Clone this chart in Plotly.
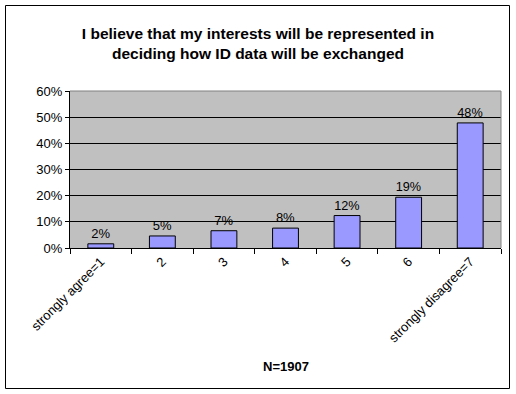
import plotly.graph_objects as go

categories = ["strongly agree=1", "2", "3", "4", "5", "6", "strongly disagree=7"]
values = [0.016, 0.046, 0.066, 0.076, 0.124, 0.194, 0.478]
y_ticks = [0, 0.1, 0.2, 0.3, 0.4, 0.5, 0.6]
title_text = "<b>I believe that my interests will be represented in<br>deciding how ID data will be exchanged</b>"
x_title = "<b>N=1907</b>"

FONT = "Arial, Liberation Sans, sans-serif"

# layout geometry (pixels)
W, H = 516, 394
L, R, T, B = 70, 15, 91, 146
pw = W - L - R
ph = H - T - B

def px_x(px):
    return (px - L) / pw

def px_y(py):
    return (H - B - py) / ph

fig = go.Figure(
    go.Bar(
        x=categories,
        y=values,
        marker=dict(color="#9999FF", line=dict(color="black", width=1)),
        texttemplate="%{y:.0%}",
        textposition="outside",
        textfont=dict(family=FONT, size=13, color="black"),
        cliponaxis=False,
    )
)

fig.update_layout(
    width=W,
    height=H,
    margin=dict(l=L, r=R, t=T, b=B, pad=0, autoexpand=False),
    paper_bgcolor="white",
    plot_bgcolor="#C0C0C0",
    bargap=0.58,
    showlegend=False,
    font=dict(family=FONT, size=13, color="black"),
    title=dict(
        text=title_text,
        x=0.5,
        xref="container",
        xanchor="center",
        y=1 - 38.5 / H,
        yref="container",
        yanchor="middle",
        font=dict(family=FONT, size=15.5, color="black"),
    ),
    xaxis=dict(
        type="category",
        automargin=False,
        tickangle=-45,
        ticks="outside",
        tickson="boundaries",
        ticklen=5,
        tickcolor="black",
        showline=True,
        linecolor="black",
        linewidth=1,
        showgrid=False,
        tickfont=dict(family=FONT, size=13, color="black"),
    ),
    yaxis=dict(
        range=[0, 0.6],
        automargin=False,
        tickvals=y_ticks,
        tickformat=".0%",
        ticks="outside",
        ticklen=4,
        tickcolor="black",
        showline=True,
        linecolor="black",
        linewidth=1,
        showgrid=True,
        gridcolor="black",
        gridwidth=1,
        zeroline=False,
        tickfont=dict(family=FONT, size=13, color="black"),
    ),
    annotations=[
        dict(
            text=x_title,
            xref="paper",
            yref="paper",
            x=0.5,
            y=px_y(366),
            xanchor="center",
            yanchor="middle",
            showarrow=False,
            font=dict(family=FONT, size=13, color="black"),
        )
    ],
    shapes=[
        # top and right edges of plot area (gray)
        dict(type="line", xref="paper", yref="paper", x0=0, x1=1, y0=1, y1=1,
             line=dict(color="#808080", width=1)),
        dict(type="line", xref="paper", yref="paper", x0=1, x1=1, y0=0, y1=1,
             line=dict(color="#808080", width=1)),
        # outer chart border
        dict(type="rect", xref="paper", yref="paper",
             x0=px_x(5.5), x1=px_x(509.5), y0=px_y(388.5), y1=px_y(5.5),
             line=dict(color="black", width=1)),
    ],
)

fig.write_html(
    "out.html",
    config={"displayModeBar": False},
    post_script="document.body.style.margin='0';document.body.style.padding='0';",
)
